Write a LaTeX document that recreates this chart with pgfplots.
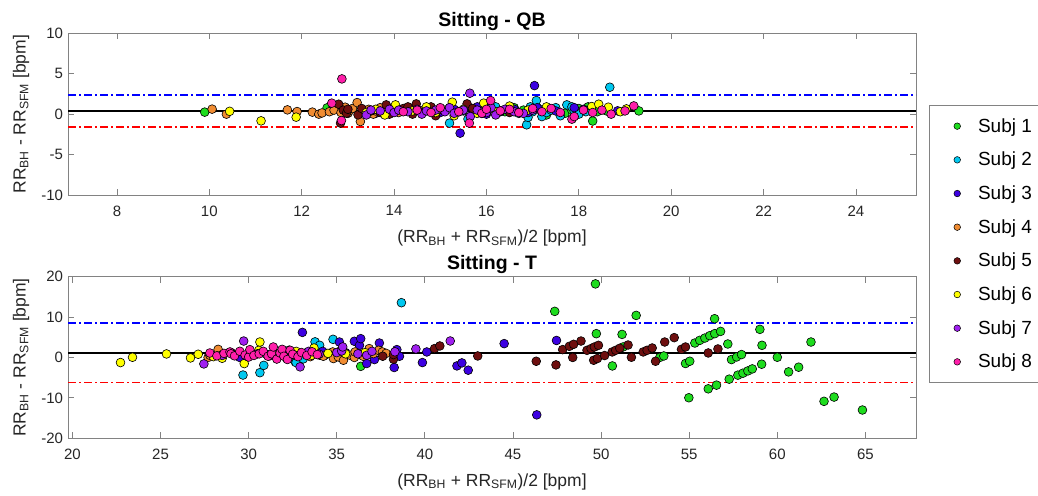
\documentclass[border=0pt]{standalone}
\usepackage{fontspec}
\setmainfont{Liberation Sans}
\usepackage{pgfplots}
\pgfplotsset{compat=1.18}
\definecolor{s1}{RGB}{30,220,30}
\definecolor{s2}{RGB}{0,200,240}
\definecolor{s3}{RGB}{60,0,225}
\definecolor{s4}{RGB}{240,140,50}
\definecolor{s5}{RGB}{110,15,15}
\definecolor{s6}{RGB}{255,255,0}
\definecolor{s7}{RGB}{160,32,240}
\definecolor{s8}{RGB}{255,30,170}
\definecolor{framegray}{RGB}{130,130,130}
\definecolor{textgray}{RGB}{38,38,38}
\pgfplotsset{
  ba/.style={
    scale only axis, width=848pt, height=161.7pt,
    axis line style={framegray, line width=0.9pt},
    every tick/.style={framegray, line width=0.9pt},
    major tick length=6pt,
    tick align=inside,
    tick label style={font=\fontsize{15}{17}\selectfont, text=textgray},
    /pgf/number format/assume math mode=true,
    xticklabel style={yshift=-7pt},
    yticklabel style={xshift=-1.5pt},
    every axis x label/.style={at={(axis description cs:0.5,-0.295)}, anchor=base, font=\fontsize{17.5}{20}\selectfont, text=textgray},
    every axis y label/.style={at={(axis description cs:-0.0499,0.5)}, rotate=90, anchor=base, font=\fontsize{17.5}{20}\selectfont, text=textgray},
    every axis title/.style={at={(axis description cs:0.5,1)}, anchor=base, yshift=7pt, font=\bfseries\fontsize{19.5}{22}\selectfont},
    xlabel={(RR\textsubscript{BH} + RR\textsubscript{SFM})/2 [bpm]},
    ylabel={RR\textsubscript{BH} - RR\textsubscript{SFM} [bpm]},
  },
  subj/.style={only marks, mark=*, mark size=4.4pt, draw=black, line width=0.6pt, fill=#1},
  meanl/.style={black, line width=1.8pt, forget plot},
  upl/.style={blue, line width=1.8pt, dash pattern=on 8pt off 3pt on 2pt off 3pt, forget plot},
  lol/.style={red, line width=1.8pt, dash pattern=on 8pt off 3pt on 2pt off 3pt, forget plot},
}
\begin{document}
\begin{tikzpicture}
\useasboundingbox (0,0) rectangle (1038pt,495pt);
\clip (0,0) rectangle (1038pt,495pt);
\fill[white] (0,0) rectangle (1038pt,495pt);
% ---------------- top: Sitting - QB
\begin{axis}[ba, at={(68pt,300pt)}, anchor=south west,
  xmin=6.94, xmax=25.3, ymin=-10, ymax=10,
  xtick={8,10,...,24}, ytick={-10,-5,0,5,10},
  title={Sitting - QB},
  legend style={at={(axis description cs:1.0153,0.556)}, anchor=north west,
    draw=framegray, line width=0.9pt, fill=white,
    font=\fontsize{19}{22}\selectfont, row sep=14.4pt, inner ysep=11pt, inner xsep=3pt},
  legend cell align=left,
  legend image code/.code={\path (-24.5pt,0pt) (18.5pt,0pt); \draw[mark size=3.3pt, line width=0.5pt] plot coordinates {(0pt,0pt)};},
]
\addplot[meanl] coordinates {(6.94,0.4) (25.3,0.4)};
\addplot[upl] coordinates {(6.94,2.38) (25.3,2.38)};
\addplot[lol] coordinates {(6.94,-1.57) (25.3,-1.57)};
\addplot[subj=s1] coordinates {(9.9,0.25) (12.55,0.78) (15.9,0.1) (16.4,0.3) (16.6,0.8) (16.8,0.5) (17.2,0.2) (17.3,-0.1) (17.5,0.6) (17.7,0.1) (17.85,0.45) (18.0,0.7) (18.2,0.9) (18.3,-0.85) (18.4,0.3) (18.6,0.4) (19.3,0.4)};
\addplot[subj=s2] coordinates {(15.2,-1.11) (15.5,0.4) (15.6,-0.6) (16.2,0.9) (16.5,0.5) (16.7,0.1) (16.87,-1.32) (16.9,-0.4) (16.95,0.9) (17.0,0.3) (17.08,1.68) (17.15,0.6) (17.2,-0.3) (17.3,0.2) (17.4,0.5) (17.5,0.8) (17.6,-0.2) (17.74,1.15) (17.85,0.9) (17.9,0.4) (18.0,0.0) (18.15,0.3) (18.67,3.33)};
\addplot[subj=s3] coordinates {(13.6,0.1) (14.0,0.3) (14.5,0.5) (14.8,0.7) (15.0,0.2) (15.3,0.6) (15.43,-2.35) (15.7,0.4) (15.8,0.9) (16.0,0.0) (16.3,0.3) (16.6,0.6) (16.9,0.2) (17.04,3.53) (17.1,0.8) (17.5,0.4) (17.9,0.8) (18.1,0.6) (18.84,0.41)};
\addplot[subj=s4] coordinates {(10.06,0.62) (10.37,0.0) (11.69,0.53) (11.9,0.32) (12.23,0.25) (12.37,0.0) (12.44,0.15) (12.6,0.3) (12.7,0.5) (12.85,0.2) (12.94,0.86) (13.0,0.1) (13.04,0.44) (13.1,0.7) (13.2,1.43) (13.27,-0.91) (13.36,0.32) (13.45,0.6) (13.55,0.0) (13.6,0.4) (13.7,0.8) (13.8,0.3) (13.9,0.5) (14.1,0.2) (14.3,0.6) (14.6,0.4)};
\addplot[subj=s5] coordinates {(12.8,1.23) (12.84,-1.11) (12.9,0.5) (12.97,0.12) (13.0,0.6) (13.22,-0.09) (13.3,0.7) (13.5,0.4) (13.7,0.2) (13.83,1.15) (13.9,0.0) (14.0,0.4) (14.2,0.7) (14.3,0.9) (14.4,0.0) (14.48,1.27) (14.6,0.2) (14.8,0.9) (14.9,-0.2) (15.0,0.6) (15.2,0.8) (15.4,0.3) (15.58,1.27) (15.7,0.7) (16.0,0.7) (16.3,0.4) (16.5,0.2)};
\addplot[subj=s6] coordinates {(10.44,0.35) (11.12,-0.83) (11.88,-0.37) (13.4,0.2) (13.6,0.6) (13.8,-0.1) (14.03,1.15) (14.4,0.4) (14.7,0.9) (14.9,0.2) (15.1,0.5) (15.26,1.48) (15.3,-0.2) (15.5,0.6) (15.8,0.1) (15.94,1.36) (16.2,0.3) (16.5,1.0) (16.9,0.5) (17.3,0.9) (18.28,0.94) (18.43,1.23) (18.64,0.86) (18.9,0.3) (19.03,0.65)};
\addplot[subj=s7] coordinates {(13.4,-0.1) (13.5,0.5) (13.7,0.4) (13.9,0.6) (14.0,0.2) (14.1,0.5) (14.3,0.3) (14.5,0.6) (14.6,0.0) (14.7,0.4) (14.9,0.5) (15.1,0.3) (15.2,0.8) (15.3,0.1) (15.5,0.5) (15.64,2.59) (15.65,-0.3) (15.8,0.5) (16.0,0.2) (16.1,0.8) (16.2,-0.1) (16.4,0.6) (16.6,0.3) (16.8,0.1) (17.0,0.5)};
\addplot[subj=s8] coordinates {(12.65,1.36) (12.86,-0.79) (12.87,4.36) (14.2,0.3) (14.5,0.5) (14.8,0.2) (15.0,0.8) (15.4,0.3) (15.63,-1.11) (15.9,0.1) (16.0,0.6) (16.09,1.68) (16.3,0.4) (16.5,0.6) (16.7,0.2) (17.0,0.7) (17.2,0.3) (17.4,0.7) (17.6,0.2) (17.85,-0.62) (17.9,-0.3) (18.1,0.5) (18.3,0.2) (18.5,0.5) (18.7,0.0) (19.0,0.4) (19.19,1.02)};
\legend{Subj 1\rule{40pt}{0pt},Subj 2,Subj 3,Subj 4,Subj 5,Subj 6,Subj 7,Subj 8}
\end{axis}
% ---------------- bottom: Sitting - T
\begin{axis}[ba, at={(68pt,56.7pt)}, anchor=south west,
  xmin=19.75, xmax=67.87, ymin=-20, ymax=20,
  xtick={20,25,...,65}, ytick={-20,-10,0,10,20},
  title={Sitting - T},
]
\addplot[meanl] coordinates {(19.75,1.15) (67.87,1.15)};
\addplot[upl] coordinates {(19.75,8.5) (67.87,8.5)};
\addplot[lol] coordinates {(19.75,-6.2) (67.87,-6.2)};
\addplot[subj=s1] coordinates {(36.36,-2.2) (47.37,11.4) (49.68,18.2) (49.73,5.88) (50.64,-2.1) (51.19,5.7) (51.25,2.6) (51.99,10.4) (53.33,0.0) (53.56,0.37) (54.79,-1.5) (55.03,-0.94) (54.98,-9.97) (55.32,3.57) (55.6,4.23) (55.89,4.8) (56.17,5.39) (56.45,5.89) (56.44,9.58) (56.78,6.45) (56.08,-7.76) (56.55,-6.85) (57.19,3.33) (57.27,-5.37) (57.4,-0.52) (57.69,0.12) (57.97,0.71) (57.76,-4.38) (58.05,-3.89) (58.33,-3.33) (58.58,-2.83) (59.01,6.95) (59.13,3.0) (59.11,-1.67) (60.0,0.05) (60.64,-3.57) (61.21,-2.41) (61.91,3.82) (62.65,-10.86) (63.22,-9.8) (64.83,-13.0)};
\addplot[subj=s2] coordinates {(29.68,-4.35) (30.64,-3.76) (30.86,-1.96) (31.0,0.8) (32.16,-0.27) (32.3,1.8) (32.65,-1.1) (32.69,-1.26) (33.1,-0.35) (33.3,1.2) (33.77,3.86) (34.0,1.8) (34.03,3.0) (34.3,0.5) (34.79,4.48) (38.67,13.55)};
\addplot[subj=s3] coordinates {(29.5,0.0) (31.5,1.0) (33.05,6.2) (34.2,1.5) (35.15,3.82) (35.5,1.2) (36.0,4.0) (36.29,3.0) (36.36,4.65) (36.7,-1.5) (37.14,-0.52) (37.42,3.57) (38.26,-2.49) (38.41,1.94) (38.56,0.3) (39.86,-1.26) (40.11,1.36) (41.82,-2.09) (42.1,-1.35) (42.46,-3.15) (44.5,3.42) (46.35,-14.2) (47.47,4.2)};
\addplot[subj=s4] coordinates {(27.7,0.0) (27.8,0.54) (28.27,2.0) (28.4,0.5) (32.8,0.6) (33.2,1.0) (33.5,0.2) (33.9,0.8) (34.05,0.54) (34.24,0.3) (34.6,0.9) (34.77,1.36) (34.81,-0.27) (35.09,0.12) (35.2,1.6) (35.38,-0.69) (35.5,1.0) (35.76,0.54) (36.0,0.0) (36.04,1.36) (36.3,0.8) (36.5,0.3) (36.84,2.19) (37.08,0.96) (37.37,1.77) (37.59,1.36) (37.8,1.0)};
\addplot[subj=s5] coordinates {(37.61,0.3) (38.22,-0.44) (38.22,0.71) (40.55,2.19) (40.85,2.84) (43.0,0.37) (46.32,-0.94) (47.44,-1.84) (47.82,1.94) (48.2,2.76) (48.44,3.25) (48.86,4.06) (48.39,0.0) (49.2,1.77) (49.43,2.19) (49.62,2.59) (49.85,3.0) (49.58,-0.69) (49.79,-0.27) (50.2,0.47) (50.63,1.36) (50.83,1.77) (51.06,2.27) (51.53,3.08) (51.72,0.05) (52.39,1.36) (52.61,1.77) (52.9,2.34) (53.09,-0.94) (53.61,3.82) (54.15,4.9) (54.56,2.02) (54.79,2.59) (56.08,1.11) (56.63,2.1)};
\addplot[subj=s6] coordinates {(22.73,-1.26) (23.41,0.05) (25.34,0.87) (26.7,-0.11) (27.14,0.79) (28.0,0.2) (28.5,-0.2) (29.2,0.8) (29.75,-1.51) (30.58,1.77) (30.64,3.82) (31.5,0.5) (32.7,1.5) (33.58,0.54) (33.71,2.34) (34.5,1.0) (35.5,0.9) (36.6,1.2)};
\addplot[subj=s7] coordinates {(27.46,-1.6) (28.5,0.5) (29.0,1.2) (29.72,4.06) (29.9,0.3) (30.5,0.9) (31.2,0.4) (32.0,1.3) (32.6,0.6) (32.92,-2.33) (33.4,1.5) (34.0,0.8) (35.0,1.2) (35.28,1.6) (35.34,2.6) (36.2,0.9) (36.7,0.54) (37.0,1.5) (38.3,1.4) (39.49,2.1) (41.44,4.07)};
\addplot[subj=s8] coordinates {(27.8,1.1) (28.2,0.4) (28.6,1.0) (28.94,1.36) (29.0,0.9) (29.2,0.4) (29.5,1.52) (29.8,0.6) (30.0,0.1) (30.07,1.93) (30.3,0.5) (30.6,0.9) (30.83,1.52) (31.1,0.3) (31.3,0.9) (31.4,2.59) (31.6,-0.4) (31.78,1.1) (31.9,2.0) (32.0,0.3) (32.2,-0.5) (32.35,1.77) (32.5,0.8) (32.8,0.2) (33.0,1.2) (33.3,0.5) (33.6,1.4) (33.9,0.7)};
\end{axis}
\end{tikzpicture}
\end{document}
